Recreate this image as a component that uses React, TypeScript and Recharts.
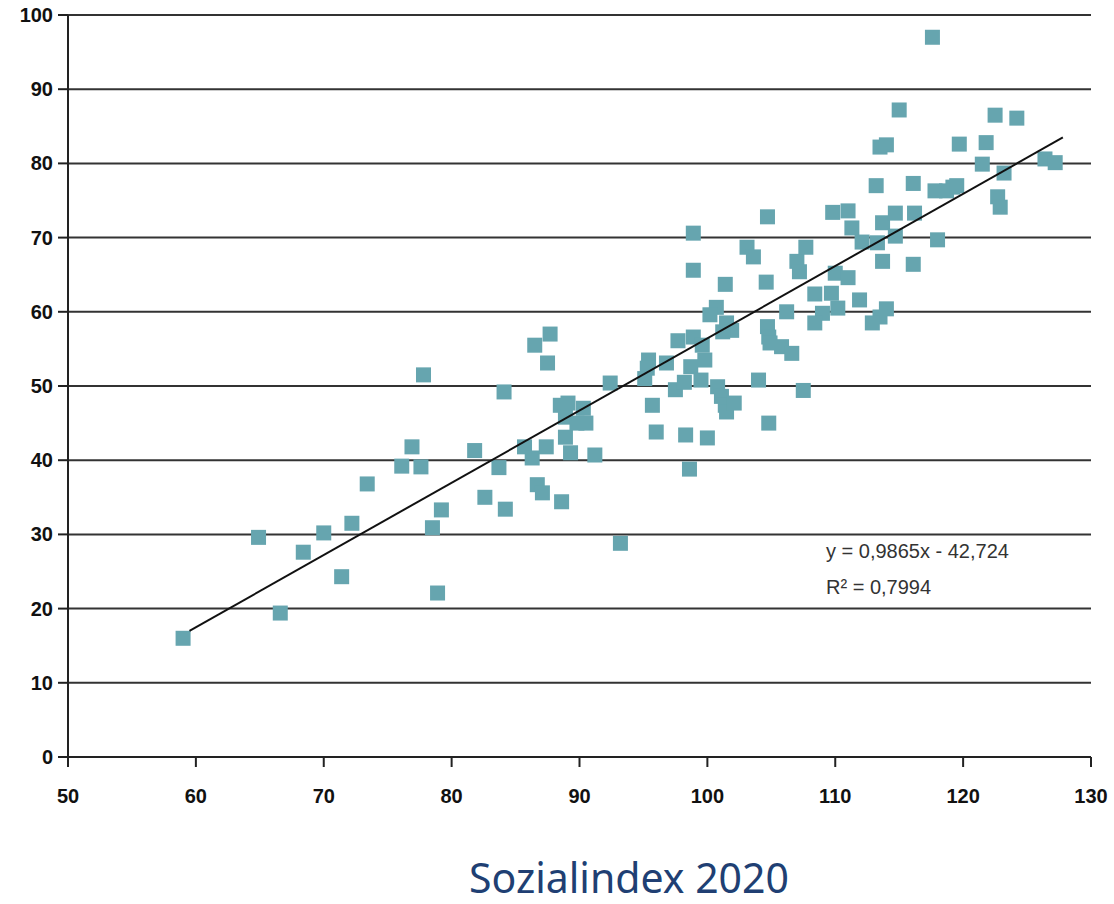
import React from 'react';
import { ScatterChart, Scatter, XAxis, YAxis, CartesianGrid } from 'recharts';

// Sozialindex 2020 (x) against the second index (y), one point per district
const sozialindex: number[] = [
    59.0, 64.9, 66.6, 68.4, 70.0, 71.4, 72.2, 73.4, 76.1, 76.9,
    77.6, 77.8, 78.5, 78.9, 79.2, 81.8, 82.6, 83.7, 84.1, 84.2,
    85.7, 86.3, 86.5, 86.7, 87.1, 87.4, 87.5, 87.7, 88.5, 88.6,
    88.9, 88.9, 89.1, 89.3, 89.8, 90.3, 90.5, 91.2, 92.4, 93.2,
    95.4, 95.3, 95.1, 95.7, 96.0, 96.8, 97.7, 98.9, 99.6, 98.7,
    99.8, 97.5, 98.2, 99.5, 98.3, 98.6, 100.0, 98.9, 98.9, 101.4,
    100.7, 100.2, 101.5, 101.9, 101.2, 100.8, 101.1, 101.4, 101.5, 102.1,
    104.0, 104.8, 104.7, 104.6, 106.2, 104.7, 104.8, 104.9, 105.8, 106.6,
    103.1, 103.6, 107.0, 107.2, 107.7, 107.5, 115.0, 113.5, 114.0, 119.7,
    113.2, 116.1, 117.8, 119.2, 109.8, 111.0, 111.3, 112.1, 113.7, 114.7,
    116.2, 113.3, 114.7, 118.0, 113.7, 116.1, 110.0, 111.0, 108.4, 109.7,
    111.9, 110.2, 109.0, 108.4, 114.0, 113.5, 112.9, 117.6, 122.5, 124.2,
    121.8, 121.5, 123.2, 126.4, 127.2, 118.7, 119.5, 122.7, 122.9,
];

const wert: number[] = [
    16.0, 29.6, 19.4, 27.6, 30.2, 24.3, 31.5, 36.8, 39.2, 41.8,
    39.1, 51.5, 30.9, 22.1, 33.3, 41.3, 35.0, 39.0, 49.2, 33.4,
    41.8, 40.3, 55.5, 36.7, 35.6, 41.8, 53.1, 57.0, 47.4, 34.4,
    45.8, 43.1, 47.7, 41.0, 45.0, 47.0, 45.0, 40.7, 50.4, 28.8,
    53.5, 52.4, 51.0, 47.4, 43.8, 53.1, 56.1, 56.6, 55.5, 52.6,
    53.5, 49.5, 50.5, 50.8, 43.4, 38.8, 43.0, 70.6, 65.6, 63.7,
    60.6, 59.6, 58.5, 57.5, 57.3, 49.9, 48.6, 47.4, 46.5, 47.7,
    50.8, 45.0, 72.8, 64.0, 60.0, 58.0, 56.6, 55.8, 55.3, 54.4,
    68.7, 67.4, 66.8, 65.4, 68.7, 49.4, 87.2, 82.2, 82.5, 82.6,
    77.0, 77.3, 76.3, 76.8, 73.4, 73.6, 71.3, 69.4, 72.0, 73.3,
    73.3, 69.3, 70.2, 69.7, 66.8, 66.4, 65.2, 64.6, 62.4, 62.5,
    61.6, 60.5, 59.8, 58.5, 60.4, 59.3, 58.5, 97.0, 86.5, 86.1,
    82.8, 79.9, 78.7, 80.6, 80.1, 76.3, 77.0, 75.5, 74.1,
];

// ends of the linear trend line as drawn
const trendX: number[] = [59.5, 127.8];
const trendY: number[] = [17.0, 83.5];

const xTicks: number[] = [50, 60, 70, 80, 90, 100, 110, 120, 130];
const yTicks: number[] = [0, 10, 20, 30, 40, 50, 60, 70, 80, 90, 100];

const equation = 'y = 0,9865x - 42,724';
const rSquared = 'R² = 0,7994';
const xTitle = 'Sozialindex 2020';

const points = sozialindex.map((x, i) => ({ x, y: wert[i] }));
const trend = trendX.map((x, i) => ({ x, y: trendY[i] }));

const tickFont = 'Liberation Sans, Arial, sans-serif';

// custom ticks so the bold label size sticks
const XTick = (props: any) => {
    const { x, y, payload } = props;
    return (
        <text x={x} y={y + 34} textAnchor="middle" fontSize={20} fontWeight={700} fontFamily={tickFont} fill="#111">
            {payload.value}
        </text>
    );
};

const YTick = (props: any) => {
    const { x, y, payload } = props;
    return (
        <text x={x - 3} y={y + 7} textAnchor="end" fontSize={20} fontWeight={700} fontFamily={tickFont} fill="#111">
            {payload.value}
        </text>
    );
};

const SquareDot = (props: any) => {
    const { cx, cy } = props;
    return <rect x={cx - 7.5} y={cy - 7.5} width={15} height={15} fill="#66a5af" />;
};

const NoDot = () => <g />;

const App: React.FC = () => {
    return (
        <div style={{ position: 'absolute', left: 0, top: 0, width: 1114, height: 904, background: '#fff' }}>
            <ScatterChart width={1114} height={820} margin={{ top: 15, right: 23, left: 0, bottom: 20 }}>
                <CartesianGrid vertical={false} stroke="#333" strokeWidth={2} />
                <XAxis
                    type="number"
                    dataKey="x"
                    domain={[50, 130]}
                    ticks={xTicks}
                    height={43}
                    tickSize={10}
                    stroke="#222"
                    strokeWidth={2}
                    tick={XTick}
                    allowDataOverflow
                />
                <YAxis
                    type="number"
                    dataKey="y"
                    domain={[0, 100]}
                    ticks={yTicks}
                    width={68}
                    tickSize={10}
                    stroke="#222"
                    strokeWidth={2}
                    tick={YTick}
                    allowDataOverflow
                />
                <Scatter data={points} shape={SquareDot} isAnimationActive={false} />
                <Scatter
                    data={trend}
                    line={{ stroke: '#111', strokeWidth: 2 }}
                    shape={NoDot}
                    isAnimationActive={false}
                />
            </ScatterChart>

            <div style={{ position: 'absolute', left: 826, top: 533, fontFamily: tickFont, fontSize: 20, color: '#333', lineHeight: '36px' }}>
                <div>{equation}</div>
                <div>{rSquared}</div>
            </div>

            <div style={{ position: 'absolute', left: 144, width: 970, top: 852, height: 50, textAlign: 'center', fontFamily: 'Noto Sans, sans-serif', fontSize: 41, lineHeight: '50px', color: '#203f73' }}>
                {xTitle}
            </div>
        </div>
    );
};

export default App;
